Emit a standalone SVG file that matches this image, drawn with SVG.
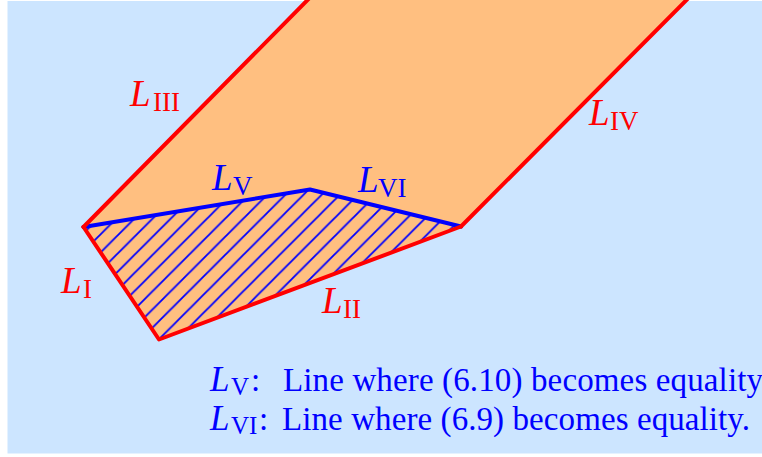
<svg xmlns="http://www.w3.org/2000/svg" width="762" height="457" viewBox="0 0 762 457">
<style>
.red{stroke:#ff0000;stroke-width:4;fill:none;stroke-linejoin:round;stroke-linecap:round}
.blue{stroke:#0000ff;stroke-width:4;fill:none;stroke-linejoin:round;stroke-linecap:round}
.lab{font-family:"Liberation Serif","Times New Roman",serif;font-size:37px}
.it{font-style:italic}
.sub{font-size:27px}
.leg{font-family:"Liberation Serif","Times New Roman",serif;font-size:33px;fill:#0000ff}
.r{fill:#ff0000}
.b{fill:#0000ff}
</style>
<defs>
<pattern id="hatch" patternUnits="userSpaceOnUse" x="8.2" y="0" width="18.15" height="18.15">
<path d="M-2,2 L2,-2 M0,18.15 L18.15,0 M16.15,20.15 L20.15,16.15" stroke="#0000ff" stroke-width="1.8" fill="none"/>
</pattern>
</defs>
<rect id="background" x="7.5" y="1" width="754.5" height="452.5" fill="#cce5ff"/>
<g id="region">
<polygon points="83.5,227 308.5,-1 687.5,-1 461,226.5 159,339.5" fill="#ffbf80"/>
<polygon id="feasible" points="83.5,227 310,189.5 461,226.5 159,339.5" fill="url(#hatch)"/>
</g>
<g id="connectors">
<polyline id="LV-LVI" class="blue" points="83.5,227 310,189.5 461,226.5"/>
<path id="LIII" class="red" d="M83.5,227 L310.5,-3"/>
<path id="LIV" class="red" d="M461,226.5 L689.5,-3"/>
<polyline id="LI-LII" class="red" points="83.5,227 159,339.5 461,226.5"/>
</g>
<g id="labels" class="lab">
<text class="r"><tspan class="it" x="130" y="106">L</tspan><tspan class="sub" x="153" y="111">III</tspan></text>
<text class="r"><tspan class="it" x="589" y="125">L</tspan><tspan class="sub" x="610" y="130">IV</tspan></text>
<text class="b"><tspan class="it" x="212" y="190">L</tspan><tspan class="sub" x="233" y="195">V</tspan></text>
<text class="b"><tspan class="it" x="358" y="192">L</tspan><tspan class="sub" x="378" y="197">VI</tspan></text>
<text class="r"><tspan class="it" x="61" y="293">L</tspan><tspan class="sub" x="83" y="298">I</tspan></text>
<text class="r"><tspan class="it" x="322" y="313">L</tspan><tspan class="sub" x="343" y="318">II</tspan></text>
</g>
<g id="legend" class="leg">
<text><tspan class="it" x="210" y="391" font-size="35">L</tspan><tspan font-size="25" x="231" y="395">V</tspan><tspan x="251" y="391">:</tspan><tspan x="283" y="391" textLength="480" lengthAdjust="spacing">Line where (6.10) becomes equality</tspan></text>
<text><tspan class="it" x="210" y="430" font-size="35">L</tspan><tspan font-size="25" x="231" y="434">VI</tspan><tspan x="259" y="430">:</tspan><tspan x="282" y="430" textLength="468" lengthAdjust="spacing">Line where (6.9) becomes equality.</tspan></text>
</g>
</svg>
